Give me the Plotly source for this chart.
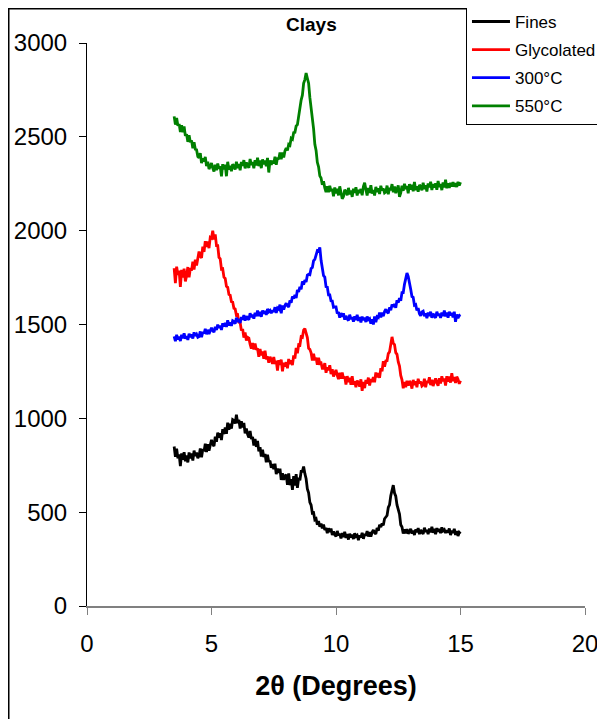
import plotly.graph_objects as go

# 2-theta scan grid: 3.50 .. 15.00 deg, step 0.05
x_start = 3.5
x_step = 0.05
n_points = 231
two_theta = [round(x_start + i * x_step, 2) for i in range(n_points)]

series_names = ["Fines", "Glycolated", "300°C", "550°C"]
series_colors = ["#000000", "#FF0000", "#0000FF", "#008000"]

fines = [
    850, 795, 838, 787, 808, 745, 813, 780, 820, 771,
    802, 765, 818, 787, 813, 775, 828, 799, 818, 788,
    800, 840, 792, 835, 824, 865, 820, 862, 828, 866,
    885, 862, 852, 902, 875, 924, 898, 920, 884, 942,
    916, 951, 918, 977, 939, 971, 945, 993, 989, 972,
    1020, 975, 992, 946, 984, 952, 976, 920, 946, 915,
    898, 933, 890, 901, 855, 890, 848, 880, 824, 846,
    796, 832, 794, 810, 766, 806, 768, 774, 737, 756,
    729, 758, 703, 732, 710, 732, 672, 708, 672, 693,
    700, 646, 707, 644, 676, 619, 692, 642, 703, 630,
    682, 670, 717, 717, 743, 705, 678, 624, 603, 552,
    538, 495, 497, 460, 465, 433, 452, 422, 439, 414,
    434, 405, 416, 388, 414, 394, 413, 378, 397, 380,
    370, 400, 376, 384, 360, 388, 367, 395, 363, 383,
    354, 385, 366, 380, 357, 388, 371, 377, 351, 376,
    366, 390, 358, 383, 375, 399, 370, 393, 370, 393,
    405, 391, 384, 416, 401, 433, 421, 439, 430, 465,
    476, 482, 525, 539, 588, 626, 644, 602, 585, 539,
    509, 490, 433, 421, 386, 408, 387, 410, 385, 403,
    411, 386, 402, 378, 408, 393, 415, 383, 406, 392,
    384, 417, 395, 405, 383, 412, 392, 422, 390, 411,
    383, 415, 396, 411, 388, 419, 401, 407, 389, 403,
    391, 413, 378, 401, 390, 411, 379, 399, 373, 392,
    385,
]

glycolated = [
    1800, 1720, 1808, 1764, 1787, 1700, 1791, 1751, 1798, 1730,
    1760, 1806, 1752, 1800, 1787, 1835, 1793, 1845, 1814, 1862,
    1889, 1863, 1855, 1915, 1887, 1944, 1914, 1942, 1907, 1964,
    1960, 2000, 1953, 1980, 1920, 1920, 1858, 1850, 1795, 1797,
    1752, 1745, 1704, 1698, 1660, 1656, 1622, 1620, 1586, 1583,
    1550, 1552, 1512, 1510, 1468, 1477, 1430, 1458, 1415, 1432,
    1428, 1395, 1371, 1401, 1367, 1398, 1365, 1372, 1328, 1370,
    1336, 1356, 1317, 1361, 1314, 1330, 1296, 1328, 1314, 1290,
    1327, 1289, 1307, 1255, 1310, 1285, 1313, 1250, 1296, 1276,
    1299, 1267, 1316, 1289, 1309, 1284, 1335, 1319, 1375, 1347,
    1392, 1390, 1435, 1432, 1470, 1478, 1449, 1430, 1373, 1368,
    1349, 1308, 1344, 1309, 1323, 1285, 1323, 1292, 1295, 1266,
    1266, 1294, 1243, 1272, 1256, 1283, 1236, 1261, 1223, 1247,
    1258, 1229, 1209, 1243, 1211, 1244, 1213, 1222, 1180, 1225,
    1193, 1216, 1179, 1225, 1180, 1198, 1166, 1201, 1190, 1169,
    1208, 1146, 1194, 1161, 1205, 1185, 1217, 1175, 1209, 1194,
    1220, 1192, 1244, 1219, 1241, 1216, 1267, 1251, 1305, 1275,
    1306, 1307, 1345, 1354, 1403, 1434, 1400, 1393, 1350, 1341,
    1300, 1278, 1229, 1205, 1160, 1193, 1166, 1200, 1174, 1198,
    1189, 1158, 1205, 1177, 1198, 1166, 1211, 1186, 1196, 1172,
    1178, 1211, 1166, 1199, 1188, 1219, 1177, 1206, 1172, 1199,
    1213, 1189, 1174, 1213, 1186, 1224, 1198, 1212, 1175, 1224,
    1196, 1223, 1190, 1240, 1199, 1220, 1189, 1222, 1208, 1184,
    1200,
]

heated_300 = [
    1437, 1411, 1445, 1420, 1435, 1412, 1445, 1426, 1453, 1424,
    1438, 1418, 1451, 1432, 1447, 1425, 1458, 1440, 1448, 1432,
    1436, 1463, 1432, 1459, 1452, 1477, 1448, 1472, 1449, 1472,
    1483, 1467, 1459, 1488, 1471, 1499, 1483, 1494, 1471, 1506,
    1489, 1508, 1487, 1522, 1495, 1511, 1493, 1520, 1516, 1504,
    1536, 1513, 1530, 1508, 1540, 1526, 1550, 1520, 1544, 1532,
    1526, 1560, 1540, 1552, 1531, 1562, 1544, 1575, 1545, 1568,
    1541, 1574, 1557, 1572, 1551, 1583, 1568, 1575, 1560, 1576,
    1567, 1592, 1562, 1588, 1582, 1606, 1560, 1601, 1579, 1601,
    1613, 1600, 1594, 1628, 1616, 1649, 1638, 1657, 1641, 1684,
    1674, 1701, 1687, 1730, 1712, 1737, 1727, 1763, 1767, 1765,
    1798, 1804, 1840, 1847, 1876, 1893, 1890, 1911, 1842, 1810,
    1760, 1752, 1702, 1700, 1658, 1658, 1626, 1625, 1592, 1594,
    1594, 1559, 1566, 1536, 1561, 1541, 1560, 1526, 1546, 1530,
    1521, 1552, 1529, 1539, 1515, 1544, 1523, 1552, 1519, 1540,
    1511, 1542, 1523, 1536, 1513, 1543, 1526, 1531, 1504, 1528,
    1500, 1543, 1513, 1541, 1537, 1564, 1538, 1564, 1544, 1569,
    1581, 1567, 1560, 1591, 1576, 1607, 1594, 1609, 1589, 1629,
    1616, 1641, 1627, 1670, 1670, 1714, 1737, 1774, 1756, 1707,
    1688, 1649, 1645, 1603, 1606, 1575, 1587, 1557, 1546, 1567,
    1571, 1545, 1559, 1534, 1563, 1546, 1568, 1536, 1558, 1544,
    1536, 1568, 1547, 1557, 1535, 1564, 1545, 1574, 1543, 1564,
    1536, 1568, 1548, 1562, 1538, 1568, 1514, 1553, 1534, 1548,
    1552,
]

heated_550 = [
    2609, 2565, 2601, 2559, 2569, 2526, 2562, 2524, 2555, 2505,
    2514, 2473, 2509, 2471, 2481, 2439, 2471, 2434, 2431, 2395,
    2388, 2413, 2360, 2386, 2368, 2393, 2344, 2368, 2328, 2351,
    2360, 2333, 2315, 2351, 2322, 2358, 2330, 2343, 2290, 2354,
    2326, 2352, 2290, 2367, 2325, 2346, 2317, 2354, 2345, 2326,
    2367, 2333, 2355, 2322, 2366, 2345, 2376, 2332, 2364, 2346,
    2335, 2382, 2350, 2366, 2333, 2375, 2347, 2389, 2344, 2374,
    2333, 2380, 2353, 2374, 2343, 2388, 2310, 2374, 2351, 2373,
    2358, 2394, 2351, 2388, 2381, 2417, 2381, 2417, 2390, 2425,
    2440, 2428, 2460, 2455, 2492, 2487, 2522, 2524, 2558, 2565,
    2618, 2640, 2696, 2722, 2785, 2805, 2840, 2812, 2786, 2710,
    2660, 2582, 2542, 2460, 2428, 2364, 2340, 2292, 2281, 2245,
    2263, 2228, 2205, 2237, 2205, 2239, 2210, 2222, 2183, 2230,
    2199, 2224, 2188, 2236, 2192, 2170, 2182, 2218, 2208, 2188,
    2228, 2193, 2214, 2180, 2223, 2201, 2231, 2187, 2218, 2200,
    2222, 2189, 2235, 2255, 2219, 2187, 2228, 2201, 2242, 2198,
    2217, 2187, 2233, 2206, 2226, 2195, 2239, 2215, 2224, 2201,
    2206, 2240, 2194, 2228, 2216, 2248, 2205, 2235, 2200, 2228,
    2241, 2180, 2201, 2240, 2212, 2250, 2223, 2237, 2199, 2248,
    2219, 2245, 2210, 2259, 2216, 2237, 2207, 2244, 2234, 2215,
    2255, 2221, 2242, 2209, 2252, 2231, 2261, 2217, 2248, 2230,
    2252, 2218, 2265, 2233, 2249, 2216, 2257, 2230, 2271, 2226,
    2252, 2228, 2255, 2235, 2259, 2234, 2253, 2233, 2260, 2240,
    2258,
]

x_ticks = [0, 5, 10, 15, 20]
y_ticks = [0, 500, 1000, 1500, 2000, 2500, 3000]

FONT = "Arial, Liberation Sans, sans-serif"

fig = go.Figure()
for name, color, ys in zip(series_names, series_colors,
                           [fines, glycolated, heated_300, heated_550]):
    fig.add_trace(go.Scatter(
        x=two_theta, y=ys, mode="lines", name=name, legendgroup=name,
        line=dict(color=color, width=2.8),
    ))

fig.update_layout(
    width=597, height=711,
    margin=dict(l=79, r=20, t=35, b=113, autoexpand=False),
    paper_bgcolor="white", plot_bgcolor="white",
    font=dict(family=FONT, color="black"),
    showlegend=True,
    legend=dict(
        x=0.761, y=1.0711, xanchor="left", yanchor="top",
        bgcolor="white", bordercolor="black", borderwidth=1,
        font=dict(size=17, family=FONT), tracegroupgap=3,
        traceorder="grouped", itemwidth=38,
    ),
    xaxis=dict(
        range=[0, 20], tickvals=x_ticks, ticks="outside", ticklen=7,
        tickcolor="#808080", showline=True, linecolor="#808080", linewidth=1.5,
        showgrid=False, zeroline=False, tickfont=dict(size=24),
        ticklabelstandoff=8,
        title=dict(text="<b>2θ (Degrees)</b>", font=dict(size=27), standoff=21),
    ),
    yaxis=dict(
        range=[0, 3000], tickvals=y_ticks, ticks="outside", ticklen=7,
        tickcolor="black", showline=True, linecolor="black", linewidth=1,
        showgrid=False, zeroline=False, tickfont=dict(size=24),
        ticklabelstandoff=7,
    ),
    shapes=[dict(
        type="rect", xref="paper", yref="paper",
        x0=-0.1576, x1=1.046, y0=-0.208, y1=1.0613,
        line=dict(color="black", width=2), layer="above",
    )],
    annotations=[dict(
        text="<b>Clays</b>", xref="paper", yref="paper",
        x=0.4498, y=1.032, xanchor="center", yanchor="middle",
        showarrow=False, font=dict(size=19, family=FONT),
    )],
)

fig.write_html("out.html")
